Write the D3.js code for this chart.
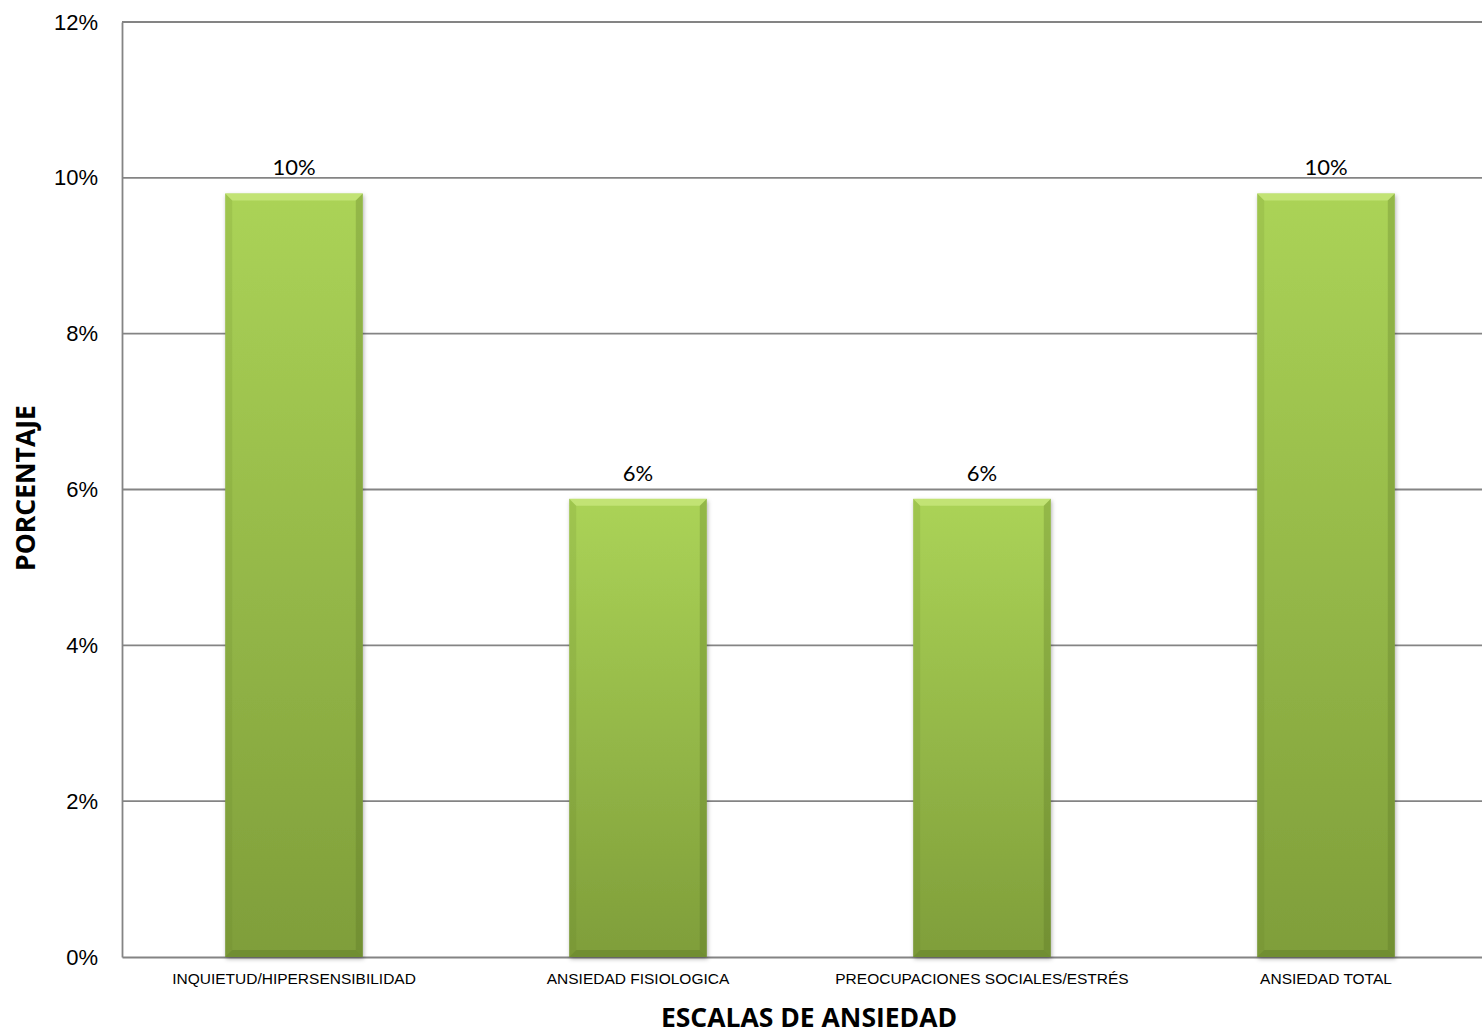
<!DOCTYPE html>
<html>
<head>
<meta charset="utf-8">
<script src="https://cdn.jsdelivr.net/npm/d3@7"></script>
<style>
  html, body { margin: 0; padding: 0; background: #fff; overflow: hidden; }
  svg { display: block; font-family: Lato, "Open Sans", "Liberation Sans", sans-serif; }
  .title { font-family: "Open Sans", Lato, sans-serif; font-weight: bold; }
</style>
</head>
<body>
<svg id="chart" width="1482" height="1036"></svg>
<script>
// Anxiety scales and share of respondents in each
const categories = [
  "INQUIETUD/HIPERSENSIBILIDAD",
  "ANSIEDAD FISIOLOGICA",
  "PREOCUPACIONES SOCIALES/ESTRÉS",
  "ANSIEDAD TOTAL"
];
const values = [0.098, 0.0588, 0.0588, 0.098];
const yTicks = [0, 0.02, 0.04, 0.06, 0.08, 0.10, 0.12];
const xTitle = "ESCALAS DE ANSIEDAD";
const yTitle = "PORCENTAJE";

const svg = d3.select("#chart");
const margin = { left: 122, top: 22, right: -16, bottom: 79 };
const W = 1482, H = 1036;
const x0 = margin.left, x1 = W - margin.right;
const y0 = H - margin.bottom, y1 = margin.top;

const x = d3.scaleBand().domain(categories).range([x0, x1]).paddingInner(0.6).paddingOuter(0.3);
const y = d3.scaleLinear().domain([0, 0.12]).range([y0, y1]);
const pct = d3.format(".0%");

// gradients
const defs = svg.append("defs");
const g = defs.append("linearGradient").attr("id", "barGrad")
  .attr("x1", 0).attr("y1", 0).attr("x2", 0).attr("y2", 1);
g.append("stop").attr("offset", "0%").attr("stop-color", "#abd357");
g.append("stop").attr("offset", "100%").attr("stop-color", "#7f9e3a");

const sh = defs.append("filter").attr("id", "shadow").attr("x", "-10%").attr("y", "-10%").attr("width", "120%").attr("height", "120%");
sh.append("feDropShadow").attr("dx", 1).attr("dy", 2).attr("stdDeviation", 2).attr("flood-color", "#000").attr("flood-opacity", 0.3);

// gridlines
svg.append("g")
  .selectAll("line")
  .data(yTicks.filter(t => t > 0))
  .join("line")
  .attr("x1", x0).attr("x2", x1)
  .attr("y1", d => y(d)).attr("y2", d => y(d))
  .attr("stroke", "#848484").attr("stroke-width", 1.8);

// y axis
const yAxis = svg.append("g")
  .attr("transform", `translate(${x0},0)`)
  .call(d3.axisLeft(y).tickValues(yTicks).tickFormat(pct).tickSize(0).tickPadding(24));
yAxis.select(".domain").attr("stroke", "#848484").attr("stroke-width", 1.8);
yAxis.selectAll("text").attr("font-size", 22).attr("fill", "#000");

// x axis
const xAxis = svg.append("g")
  .attr("transform", `translate(0,${y0})`)
  .call(d3.axisBottom(x).tickSize(0).tickPadding(16));
xAxis.select(".domain").attr("stroke", "#848484").attr("stroke-width", 1.8);
xAxis.selectAll("text").attr("font-size", 15.5).attr("fill", "#000");

// bars
const bw = x.bandwidth();
const bev = 7;
const bars = svg.append("g").selectAll("g")
  .data(categories.map((c, i) => ({ c, v: values[i] })))
  .join("g");

bars.append("rect")
  .attr("x", d => x(d.c)).attr("y", d => y(d.v))
  .attr("width", bw).attr("height", d => y0 - y(d.v))
  .attr("fill", "url(#barGrad)")
  .attr("filter", "url(#shadow)");

// bevel: top highlight
bars.append("path")
  .attr("d", d => {
    const bx = x(d.c), by = y(d.v);
    return `M${bx},${by}L${bx + bw},${by}L${bx + bw - bev},${by + bev}L${bx + bev},${by + bev}Z`;
  })
  .attr("fill", "#d6f08e").attr("opacity", 0.55);
// bevel: sides
bars.append("path")
  .attr("d", d => {
    const bx = x(d.c), by = y(d.v);
    return `M${bx},${by}L${bx + bev},${by + bev}L${bx + bev},${y0 - bev}L${bx},${y0}Z`;
  })
  .attr("fill", "#5f7a25").attr("opacity", 0.14);
bars.append("path")
  .attr("d", d => {
    const bx = x(d.c) + bw, by = y(d.v);
    return `M${bx},${by}L${bx - bev},${by + bev}L${bx - bev},${y0 - bev}L${bx},${y0}Z`;
  })
  .attr("fill", "#4d661c").attr("opacity", 0.24);
// bevel: bottom
bars.append("path")
  .attr("d", d => {
    const bx = x(d.c);
    return `M${bx},${y0}L${bx + bw},${y0}L${bx + bw - bev},${y0 - bev}L${bx + bev},${y0 - bev}Z`;
  })
  .attr("fill", "#4d661c").attr("opacity", 0.28);

// value labels
bars.append("text")
  .attr("x", d => x(d.c) + bw / 2)
  .attr("y", d => y(d.v) - 18)
  .attr("text-anchor", "middle")
  .attr("font-size", 22)
  .attr("fill", "#000")
  .text(d => pct(d.v));

// axis titles
svg.append("text")
  .attr("class", "title")
  .attr("x", 809).attr("y", 1027)
  .attr("text-anchor", "middle")
  .attr("font-size", 26.5)
  .text(xTitle);

svg.append("text")
  .attr("class", "title")
  .attr("transform", `translate(35,488) rotate(-90)`)
  .attr("text-anchor", "middle")
  .attr("font-size", 26.5)
  .text(yTitle);
</script>
</body>
</html>
